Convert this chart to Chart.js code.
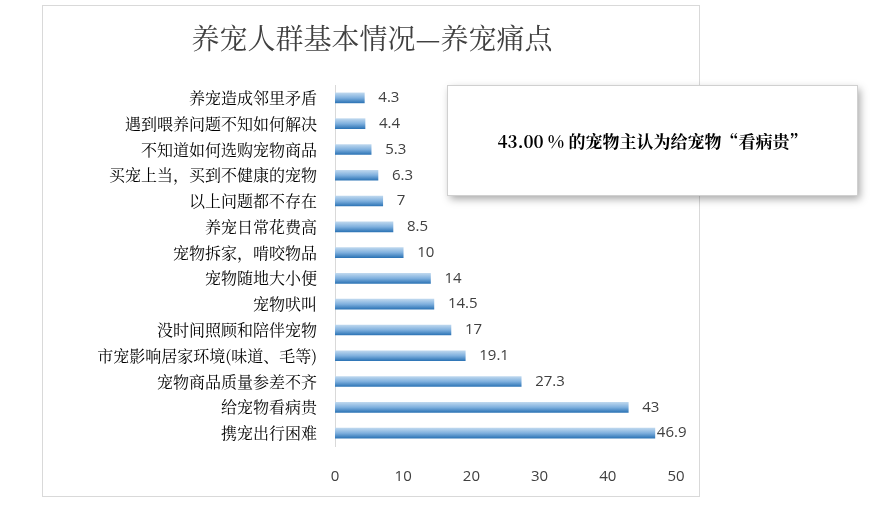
<!DOCTYPE html>
<html><head><meta charset="utf-8">
<script src="https://cdn.jsdelivr.net/npm/chart.js@4"></script>
<style>html,body{margin:0;padding:0;background:#fff}</style>
</head><body>
<canvas id="c" width="870" height="517"></canvas>
<script>
const categories=["养宠造成邻里矛盾","遇到喂养问题不知如何解决","不知道如何选购宠物商品","买宠上当，买到不健康的宠物","以上问题都不存在","养宠日常花费高","宠物拆家，啃咬物品","宠物随地大小便","宠物吠叫","没时间照顾和陪伴宠物","市宠影响居家环境(味道、毛等)","宠物商品质量参差不齐","给宠物看病贵","携宠出行困难"];
const values=[4.3,4.4,5.3,6.3,7,8.5,10,14,14.5,17,19.1,27.3,43,46.9];
const xTicks=[0,10,20,30,40,50];
const serif='"Noto Serif CJK SC","Noto Sans CJK SC",serif';
const deco={id:'deco',
 beforeDraw(c){const g=c.ctx;g.save();g.fillStyle='#fff';g.fillRect(0,0,870,517);
  g.strokeStyle='#d9d9d9';g.lineWidth=1;g.strokeRect(42.5,5.5,657,491);
  g.fillStyle='#404040';g.font='28px '+serif;g.textAlign='center';g.textBaseline='middle';
  g.fillText('养宠人群基本情况—养宠痛点',372,38);g.restore();},
 afterDatasetsDraw(c){const g=c.ctx;const m=c.getDatasetMeta(0);g.save();
  g.fillStyle='#404040';g.font='15px "Open Sans",sans-serif';g.textBaseline='middle';
  m.data.forEach((b,i)=>{g.fillText(String(values[i]),b.x+(values[i]>45?2:14),b.y);});
  g.shadowColor='rgba(0,0,0,0.35)';g.shadowBlur=8;g.shadowOffsetX=3;g.shadowOffsetY=4;
  g.fillStyle='#fff';g.fillRect(447,85,410,110);
  g.shadowColor='transparent';g.strokeStyle='#d0d0d0';g.strokeRect(447.5,85.5,410,110);
  g.fillStyle='#000';g.font='bold 17px '+serif;g.textAlign='center';
  g.fillText('43.00 % 的宠物主认为给宠物“看病贵”',652,142);g.restore();}};
new Chart(document.getElementById('c'),{type:'bar',
 data:{labels:categories,datasets:[{data:values,barThickness:10,
  backgroundColor(ctx){const s=ctx.chart.scales&&ctx.chart.scales.y;if(!s||ctx.dataIndex==null)return '#5b9bd5';
   const y=s.getPixelForValue(ctx.dataIndex);if(!isFinite(y))return '#5b9bd5';
   const gr=ctx.chart.ctx.createLinearGradient(0,y-5,0,y+5);
   gr.addColorStop(0,'#bdd7ee');gr.addColorStop(0.5,'#7fb0de');gr.addColorStop(1,'#2e75b6');return gr;}}]},
 options:{indexAxis:'y',responsive:false,animation:false,devicePixelRatio:1,
  layout:{padding:{left:42,right:194,top:85,bottom:31}},
  plugins:{legend:{display:false},tooltip:{enabled:false}},
  scales:{x:{min:0,max:50,afterBuildTicks(s){s.ticks=xTicks.map(v=>({value:v}));},
    grid:{display:false},border:{display:false},
    ticks:{padding:14,color:'#404040',font:{size:15,family:'"Open Sans",sans-serif'}},afterFit(s){s.height=40;}},
   y:{grid:{display:false},border:{color:'#d9d9d9'},
    ticks:{padding:10,color:'#000',font:{size:16,family:serif}},afterFit(s){s.width=293;}}}},
 plugins:[deco]});
</script></body></html>
